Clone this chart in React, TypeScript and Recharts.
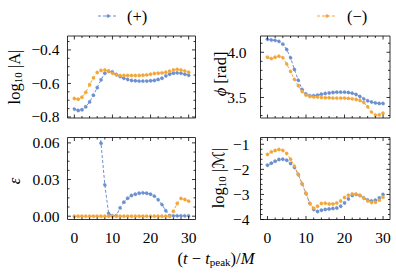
import React from 'react';
import { LineChart, Line, XAxis, YAxis } from 'recharts';

// time after peak, in units of M
const steps = [0, 1, 2, 3, 4, 5, 6, 7, 8, 9, 10, 11, 12, 13, 14, 15, 16, 17, 18, 19, 20, 21, 22, 23, 24, 25, 26, 27, 28, 29, 30];

// log10 |A|
const ampPlus = [-0.753, -0.761, -0.757, -0.739, -0.71, -0.67, -0.625, -0.578, -0.539, -0.527, -0.531, -0.547, -0.559, -0.569, -0.576, -0.582, -0.584, -0.586, -0.586, -0.586, -0.584, -0.582, -0.576, -0.569, -0.555, -0.545, -0.539, -0.537, -0.539, -0.545, -0.551];
const ampMinus = [-0.69, -0.694, -0.682, -0.653, -0.608, -0.567, -0.535, -0.522, -0.52, -0.527, -0.539, -0.549, -0.553, -0.553, -0.553, -0.553, -0.553, -0.553, -0.551, -0.549, -0.545, -0.541, -0.539, -0.537, -0.533, -0.527, -0.52, -0.516, -0.52, -0.525, -0.533];

// phi [rad]
const phasePlus = [4.143, 4.136, 4.132, 4.12, 4.09, 4.03, 3.94, 3.81, 3.69, 3.59, 3.54, 3.52, 3.52, 3.526, 3.537, 3.544, 3.55, 3.555, 3.559, 3.559, 3.559, 3.555, 3.548, 3.533, 3.51, 3.485, 3.463, 3.45, 3.44, 3.434, 3.434];
const phaseMinus = [3.945, 3.93, 3.945, 3.956, 3.94, 3.87, 3.787, 3.7, 3.63, 3.566, 3.526, 3.51, 3.504, 3.504, 3.5, 3.497, 3.497, 3.493, 3.493, 3.493, 3.493, 3.49, 3.485, 3.478, 3.467, 3.445, 3.397, 3.338, 3.305, 3.308, 3.327];

// epsilon (early (+) values run off the top of the panel)
const epsPlus = [0.22, 0.21, 0.2, 0.18, 0.16, 0.13, 0.095, 0.0597, 0.0256, 0.0022, 0.0003, 0.0004, 0.0068, 0.0115, 0.0147, 0.0169, 0.018, 0.0188, 0.0191, 0.0188, 0.018, 0.0164, 0.0134, 0.0095, 0.0045, 0.0004, 0.0003, 0.0003, 0.0003, 0.0003, 0.0003];
const epsMinus = [0, 0, 0, 0, 0, 0, 0, 0, 0, 0, 0, 0, 0, 0, 0, 0, 0, 0, 0, 0, 0, 0, 0, 0, 0, 0, 0.0041, 0.0104, 0.0145, 0.0137, 0.0123];

// log10 |M|
const massPlus = [-1.835, -1.755, -1.675, -1.607, -1.595, -1.635, -1.767, -1.926, -2.206, -2.58, -2.963, -3.362, -3.6, -3.68, -3.63, -3.6, -3.58, -3.56, -3.54, -3.47, -3.34, -3.18, -3.04, -3.0, -3.04, -3.14, -3.22, -3.26, -3.23, -3.14, -3.0];
const massMinus = [-1.408, -1.304, -1.248, -1.209, -1.248, -1.368, -1.595, -1.87, -2.206, -2.58, -2.963, -3.362, -3.55, -3.47, -3.36, -3.35, -3.38, -3.38, -3.34, -3.26, -3.12, -3.03, -2.98, -2.99, -3.04, -3.15, -3.26, -3.32, -3.31, -3.23, -3.11];

const xMajor = [0, 10, 20, 30];
const xMinor = [2, 4, 6, 8, 12, 14, 16, 18, 22, 24, 26, 28];

const BLUE = '#6b8fd0';
const ORANGE = '#f2a73b';
const FONT = '"Liberation Serif", "DejaVu Serif", serif';
const W = 396;
const H = 273;
const FS = 15.5;
const TITLE_FS = 16.5;

const minus = (s: string) => s.replace('-', '\u2212');
const isMajor = (v: number, majors: number[]) => majors.some((m) => Math.abs(m - v) < 1e-9);

type PanelProps = {
  box: [number, number, number, number];
  plus: number[];
  minusSeries: number[];
  yDomain: [number, number];
  yMajor: number[];
  yMinor: number[];
  fmt: (v: number) => string;
  gap: number;
  showX: boolean;
};

function Panel({ box, plus, minusSeries, yDomain, yMajor, yMinor, fmt, gap, showX }: PanelProps) {
  const [l, t, r, b] = box;
  const data = steps.map((s, i) => ({ t: s, plus: plus[i], minus: minusSeries[i] }));
  const xTicks = [...xMajor, ...xMinor].sort((a, c) => a - c);
  const yTicks = [...yMajor, ...yMinor].sort((a, c) => a - c);
  const axisLine = { stroke: '#000', strokeWidth: 0.8 };

  const bottomTick = (p: any) => {
    const v = p.payload.value;
    const big = isMajor(v, xMajor);
    return (
      <g key={`b-${v}`}>
        <line x1={p.x} x2={p.x} y1={p.y} y2={p.y - (big ? 3.5 : 2)} stroke="#000" strokeWidth={0.8} />
        {big && showX && (
          <text x={p.x} y={p.y + 18} textAnchor="middle" dominantBaseline="central" fontFamily={FONT} fontSize={FS} fill="#000">
            {v}
          </text>
        )}
      </g>
    );
  };
  const topTick = (p: any) => {
    const v = p.payload.value;
    const big = isMajor(v, xMajor);
    return <line key={`t-${v}`} x1={p.x} x2={p.x} y1={p.y} y2={p.y + (big ? 3.5 : 2)} stroke="#000" strokeWidth={0.8} />;
  };
  const leftTick = (p: any) => {
    const v = p.payload.value;
    const big = isMajor(v, yMajor);
    return (
      <g key={`l-${v}`}>
        <line x1={p.x} x2={p.x + (big ? 3.5 : 2)} y1={p.y} y2={p.y} stroke="#000" strokeWidth={0.8} />
        {big && (
          <text x={p.x - gap} y={p.y} textAnchor="end" dominantBaseline="central" fontFamily={FONT} fontSize={FS} fill="#000">
            {fmt(v)}
          </text>
        )}
      </g>
    );
  };
  const rightTick = (p: any) => {
    const v = p.payload.value;
    const big = isMajor(v, yMajor);
    return <line key={`r-${v}`} x1={p.x} x2={p.x - (big ? 3.5 : 2)} y1={p.y} y2={p.y} stroke="#000" strokeWidth={0.8} />;
  };

  // axes are 1px thick, so the margins give the plot box minus that pixel
  return (
    <div style={{ position: 'absolute', left: 0, top: 0 }}>
      <LineChart width={W} height={H} data={data} margin={{ left: l - 1, top: t - 1, right: W - r - 1, bottom: H - b - 1 }}>
        <XAxis xAxisId="b" dataKey="t" type="number" domain={[-1.8, 31.8]} allowDataOverflow ticks={xTicks} interval={0}
          height={1} tickSize={0} tickMargin={0} tickLine={false} axisLine={axisLine} tick={bottomTick} />
        <XAxis xAxisId="t" orientation="top" dataKey="t" type="number" domain={[-1.8, 31.8]} allowDataOverflow ticks={xTicks} interval={0}
          height={1} tickSize={0} tickMargin={0} tickLine={false} axisLine={axisLine} tick={topTick} />
        <YAxis yAxisId="l" type="number" domain={yDomain} allowDataOverflow ticks={yTicks} interval={0}
          width={1} tickSize={0} tickMargin={0} tickLine={false} axisLine={axisLine} tick={leftTick} />
        <YAxis yAxisId="r" orientation="right" type="number" domain={yDomain} allowDataOverflow ticks={yTicks} interval={0}
          width={1} tickSize={0} tickMargin={0} tickLine={false} axisLine={axisLine} tick={rightTick} />
        <Line xAxisId="b" yAxisId="l" type="linear" dataKey="plus" stroke={BLUE} strokeWidth={1} strokeDasharray="3 2"
          dot={{ r: 1.7, fill: BLUE, stroke: BLUE, strokeWidth: 0.4 }} activeDot={false} isAnimationActive={false} />
        <Line xAxisId="b" yAxisId="l" type="linear" dataKey="minus" stroke={ORANGE} strokeWidth={1} strokeDasharray="3 2"
          dot={{ r: 1.7, fill: ORANGE, stroke: ORANGE, strokeWidth: 0.4 }} activeDot={false} isAnimationActive={false} />
      </LineChart>
    </div>
  );
}

export default function App() {
  return (
    <div style={{ position: 'absolute', left: 0, top: 0, width: W, height: H, background: '#fff' }}>
      <svg width={W} height={H} style={{ position: 'absolute', left: 0, top: 0 }} fontFamily={FONT} fontSize={TITLE_FS}>
        {/* legend */}
        <line x1={98} x2={118} y1={16} y2={16} stroke={BLUE} strokeDasharray="3 2" />
        <circle cx={108} cy={16} r={1.7} fill={BLUE} />
        <text x={127} y={16} dominantBaseline="central">(+)</text>
        <line x1={317} x2={337} y1={16} y2={16} stroke={ORANGE} strokeDasharray="3 2" />
        <circle cx={327} cy={16} r={1.7} fill={ORANGE} />
        <text x={347} y={16} dominantBaseline="central">(−)</text>

        {/* axis titles */}
        <text transform="translate(14,77) rotate(-90)" textAnchor="middle" dominantBaseline="central">
          log<tspan dy={3.5} fontSize={11}>10</tspan><tspan dy={-3.5}> |A|</tspan>
        </text>
        <text transform="translate(220,74) rotate(-90)" textAnchor="middle" dominantBaseline="central">
          <tspan fontStyle="italic">ϕ</tspan> [rad]
        </text>
        <text transform="translate(14,181) rotate(-90)" textAnchor="middle" dominantBaseline="central" fontStyle="italic">
          ε
        </text>
        <text transform="translate(218,178) rotate(-90)" textAnchor="middle" dominantBaseline="central">
          log<tspan dy={3.5} fontSize={11}>10</tspan><tspan dy={-3.5}> |</tspan><tspan fontFamily='"DejaVu Sans", sans-serif'>ℳ</tspan>|
        </text>
        <text x={216} y={258} textAnchor="middle" dominantBaseline="central">
          (<tspan fontStyle="italic">t</tspan> − <tspan fontStyle="italic">t</tspan><tspan dy={3.5} fontSize={11}>peak</tspan><tspan dy={-3.5}>)/</tspan><tspan fontStyle="italic">M</tspan>
        </text>
      </svg>

      <Panel box={[67.5, 36, 195.5, 118]} plus={ampPlus} minusSeries={ampMinus} yDomain={[-0.806, -0.317]}
        yMajor={[-0.8, -0.6, -0.4]} yMinor={[-0.75, -0.7, -0.65, -0.55, -0.5, -0.45, -0.35]}
        fmt={(v) => minus(v.toFixed(1))} gap={8} showX={false} />
      <Panel box={[260.5, 36, 390, 118]} plus={phasePlus} minusSeries={phaseMinus} yDomain={[3.273, 4.18]}
        yMajor={[3.5, 4.0]} yMinor={[3.3, 3.4, 3.6, 3.7, 3.8, 3.9, 4.1]}
        fmt={(v) => v.toFixed(1)} gap={14} showX={false} />
      <Panel box={[67.5, 137.5, 195.5, 219.5]} plus={epsPlus} minusSeries={epsMinus} yDomain={[-0.0027, 0.0644]}
        yMajor={[0, 0.03, 0.06]} yMinor={[0.0075, 0.015, 0.0225, 0.0375, 0.045, 0.0525]}
        fmt={(v) => v.toFixed(2)} gap={8} showX={true} />
      <Panel box={[260.5, 137.5, 390, 219.5]} plus={massPlus} minusSeries={massMinus} yDomain={[-4, -0.73]}
        yMajor={[-4, -3, -2, -1]} yMinor={[-3.8, -3.6, -3.4, -3.2, -2.8, -2.6, -2.4, -2.2, -1.8, -1.6, -1.4, -1.2, -0.8]}
        fmt={(v) => minus(v.toFixed(0))} gap={11} showX={true} />
    </div>
  );
}
